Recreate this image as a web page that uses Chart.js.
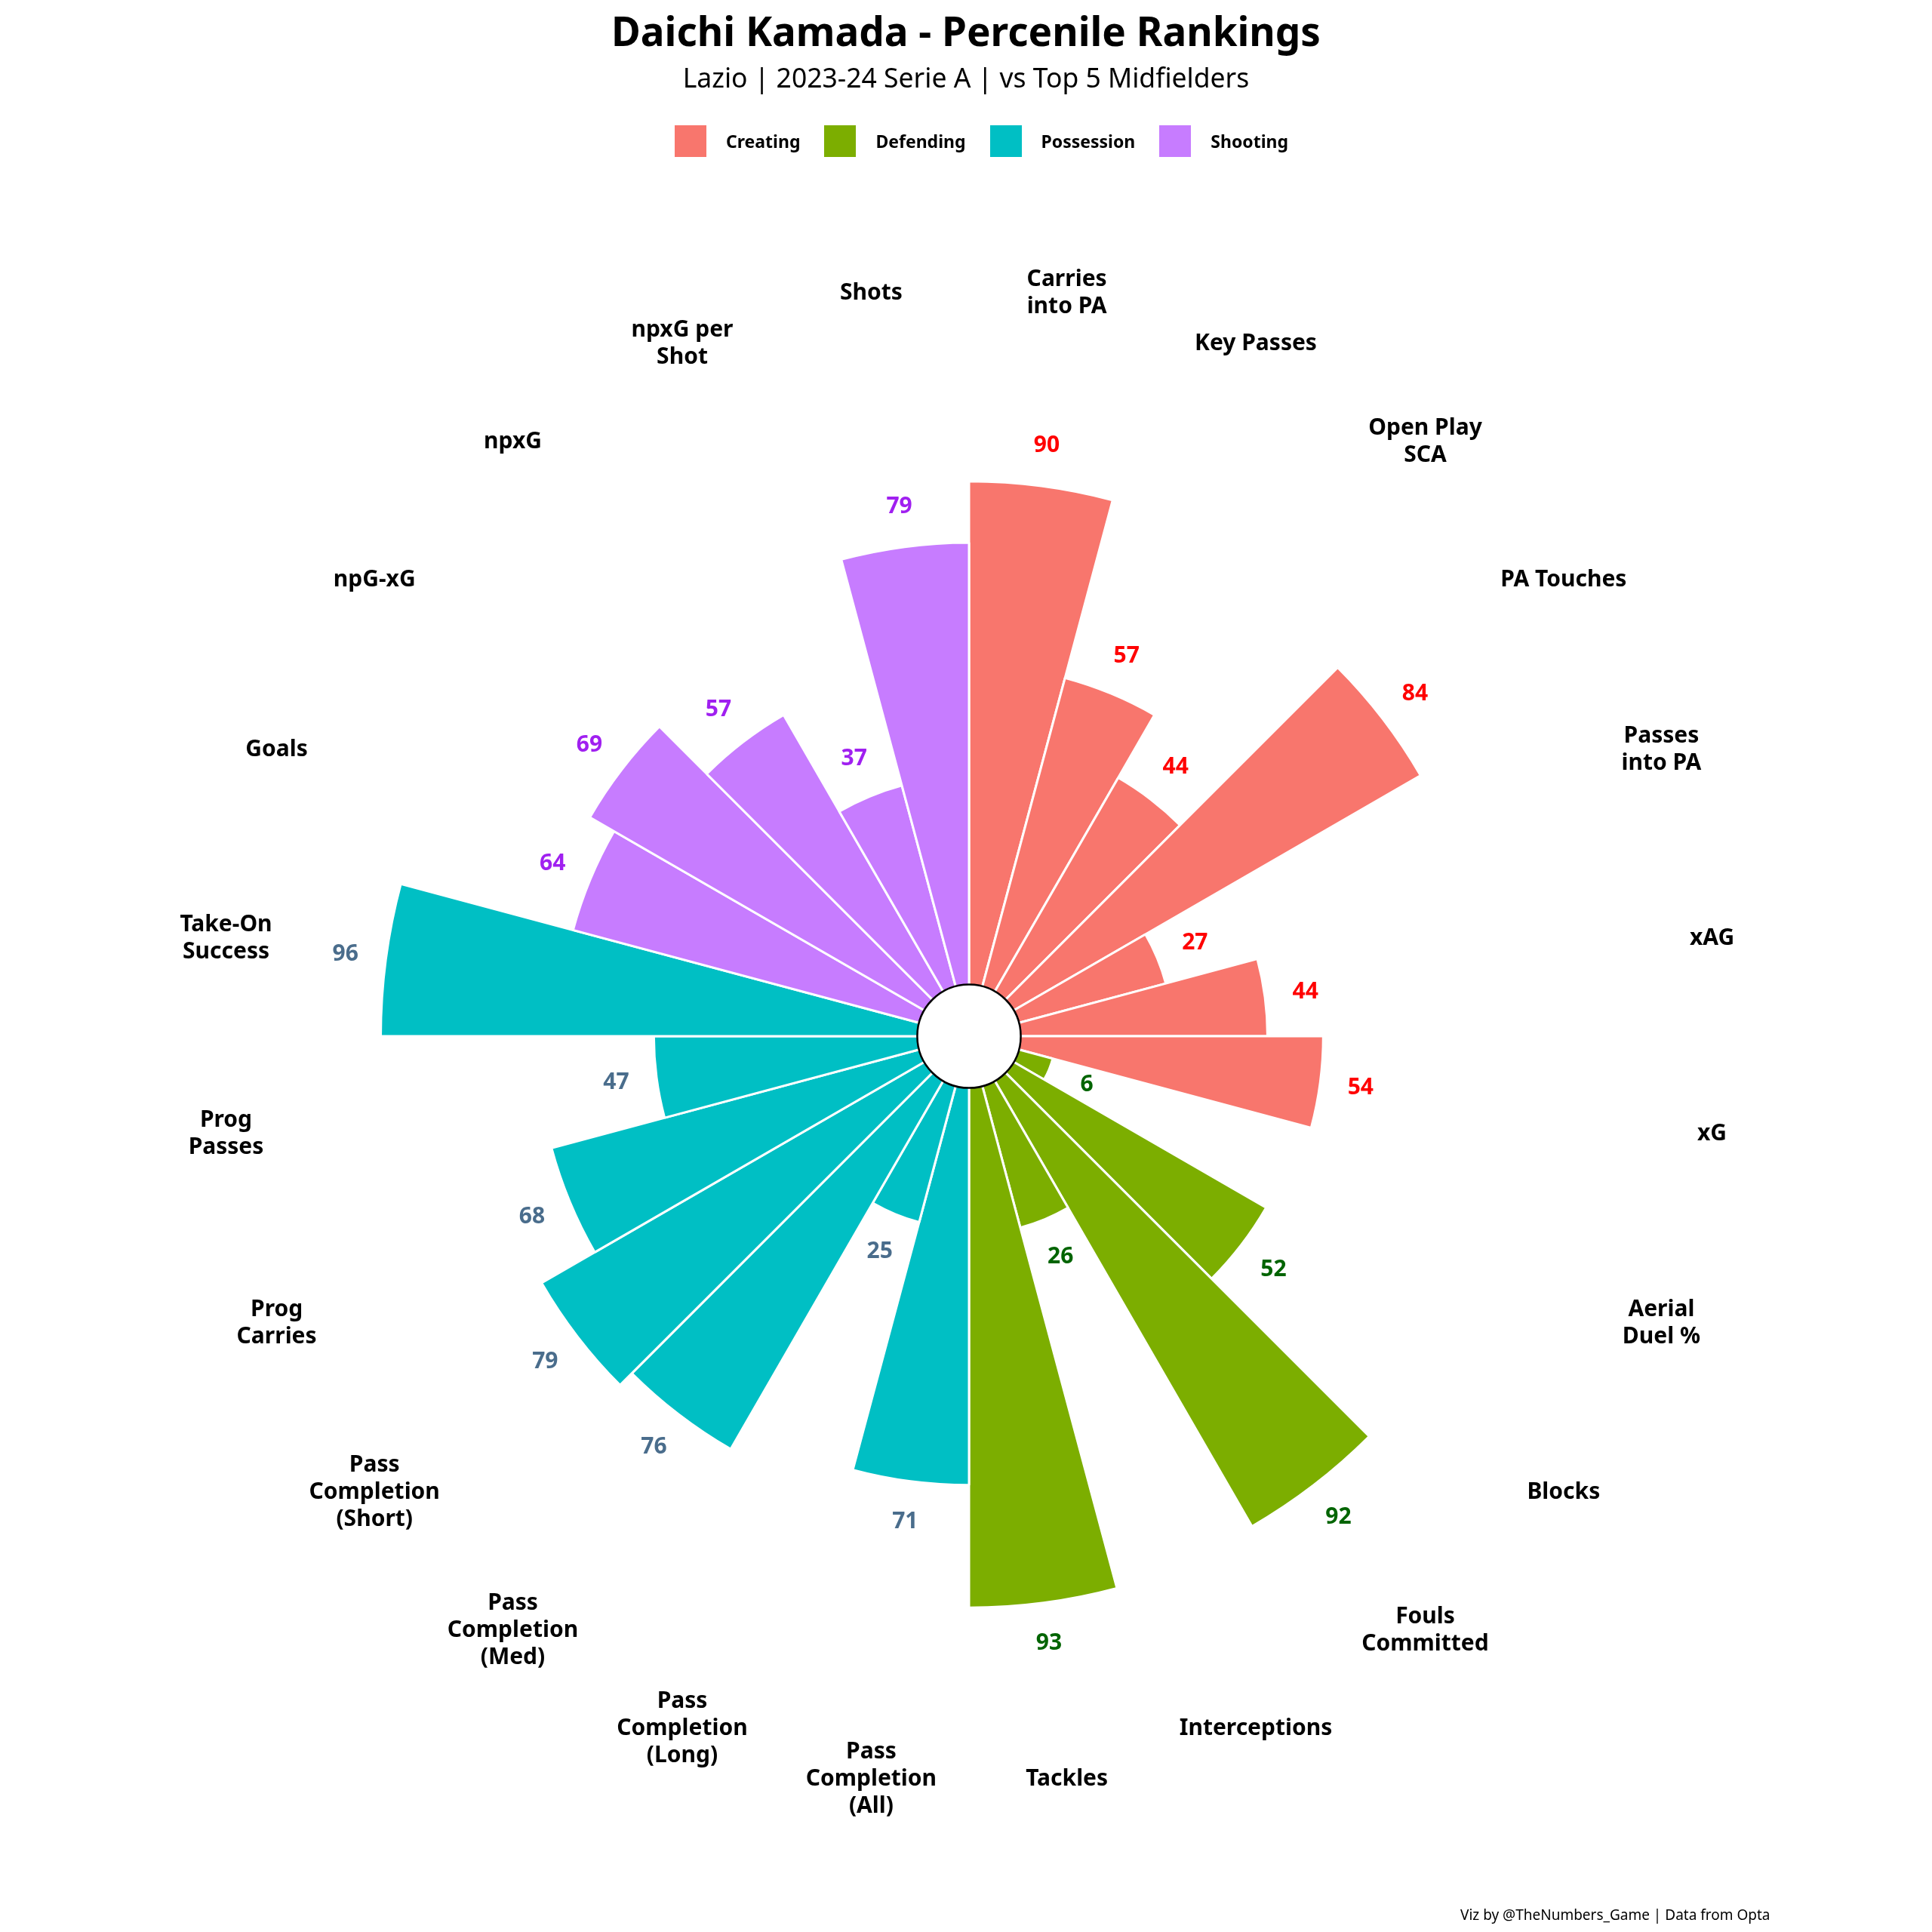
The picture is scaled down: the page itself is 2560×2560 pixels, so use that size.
<!DOCTYPE html>
<html>
<head>
<meta charset="utf-8">
<script src="https://cdn.jsdelivr.net/npm/chart.js@4"></script>
<style>
  body { margin: 0; background: #fff; font-family: "Noto Sans", sans-serif; }
  #wrap { position: relative; width: 2560px; height: 2560px; }
  #chart { position: absolute; left: 0; top: 0; }
  .title { position: absolute; top: 4px; width: 100%; text-align: center; font-weight: bold; font-size: 53px; }
  .sub { position: absolute; top: 78px; width: 100%; text-align: center; font-size: 35.5px; }
  .legend { position: absolute; top: 166px; left: 894px; display: flex; gap: 32px; font-size: 23px; font-weight: bold; }
  .legend span { display: flex; align-items: center; }
  .legend i { display: inline-block; width: 42px; height: 42px; margin-right: 26px; }
  .cap { position: absolute; top: 2524px; left: 1935px; font-size: 19px; }
</style>
</head>
<body>
<div id="wrap">
  <canvas id="chart" width="2560" height="2560"></canvas>
  <div class="title">Daichi Kamada - Percenile Rankings</div>
  <div class="sub">Lazio | 2023-24 Serie A | vs Top 5 Midfielders</div>
  <div class="legend">
    <span><i style="background:#F8766D"></i>Creating</span>
    <span><i style="background:#7CAE00"></i>Defending</span>
    <span><i style="background:#00BFC4"></i>Possession</span>
    <span><i style="background:#C77CFF"></i>Shooting</span>
  </div>
  <div class="cap">Viz by @TheNumbers_Game | Data from Opta</div>
</div>
<script>
// stats clockwise from top
const stats = ['Carries\ninto PA', 'Key Passes', 'Open Play\nSCA', 'PA Touches', 'Passes\ninto PA', 'xAG', 'xG',
  'Aerial\nDuel %', 'Blocks', 'Fouls\nCommitted', 'Interceptions', 'Tackles',
  'Pass\nCompletion\n(All)', 'Pass\nCompletion\n(Long)', 'Pass\nCompletion\n(Med)', 'Pass\nCompletion\n(Short)',
  'Prog\nCarries', 'Prog\nPasses', 'Take-On\nSuccess',
  'Goals', 'npG-xG', 'npxG', 'npxG per\nShot', 'Shots'];
const percentiles = [90, 57, 44, 84, 27, 44, 54, 6, 52, 92, 26, 93, 71, 25, 76, 79, 68, 47, 96, 64, 69, 57, 37, 79];
const groups = ['Creating', 'Creating', 'Creating', 'Creating', 'Creating', 'Creating', 'Creating',
  'Defending', 'Defending', 'Defending', 'Defending', 'Defending',
  'Possession', 'Possession', 'Possession', 'Possession', 'Possession', 'Possession', 'Possession',
  'Shooting', 'Shooting', 'Shooting', 'Shooting', 'Shooting'];

const fillColors = { Creating: '#F8766D', Defending: '#7CAE00', Possession: '#00BFC4', Shooting: '#C77CFF' };
const textColors = { Creating: '#FF0000', Defending: '#006400', Possession: '#4A6D8C', Shooting: '#A020F0' };

const labelsPlugin = {
  id: 'labels',
  afterDatasetsDraw(chart) {
    const c = chart.ctx;
    const s = chart.scales.r;
    const cx = s.xCenter, cy = s.yCenter;
    const n = stats.length;
    // center hole
    c.save();
    c.beginPath();
    c.arc(cx, cy, s.getDistanceFromCenterForValue(0) - 2, 0, Math.PI * 2);
    c.fillStyle = '#fff';
    c.fill();
    c.lineWidth = 2.5;
    c.strokeStyle = '#000';
    c.stroke();
    c.textAlign = 'center';
    c.textBaseline = 'middle';
    for (let i = 0; i < n; i++) {
      const a = -Math.PI / 2 + (i + 0.5) * 2 * Math.PI / n;
      const rv = s.getDistanceFromCenterForValue(percentiles[i]) + 54;
      c.font = 'bold 30px "Noto Sans"';
      c.fillStyle = textColors[groups[i]];
      c.fillText(percentiles[i], cx + rv * Math.cos(a), cy + rv * Math.sin(a));
      const rl = 993;
      const lines = stats[i].split('\n');
      c.fillStyle = '#000';
      lines.forEach((ln, k) => {
        const y = cy + rl * Math.sin(a) + (k - (lines.length - 1) / 2) * 36;
        c.fillText(ln, cx + rl * Math.cos(a), y);
      });
    }
    c.restore();
  }
};

new Chart(document.getElementById('chart'), {
  type: 'polarArea',
  data: {
    labels: stats.map(s => s.replace(/\n/g, ' ')),
    datasets: [{
      data: percentiles,
      backgroundColor: groups.map(g => fillColors[g]),
      borderColor: '#fff',
      borderWidth: 3
    }]
  },
  options: {
    responsive: false,
    animation: false,
    layout: { padding: { left: 475, right: 467, top: 564, bottom: 378 } },
    plugins: { legend: { display: false }, tooltip: { enabled: false } },
    scales: {
      r: {
        min: -9.56, max: 100,
        ticks: { display: false },
        grid: { display: false },
        angleLines: { display: false },
        pointLabels: { display: false }
      }
    }
  },
  plugins: [labelsPlugin]
});
</script>
</body>
</html>
